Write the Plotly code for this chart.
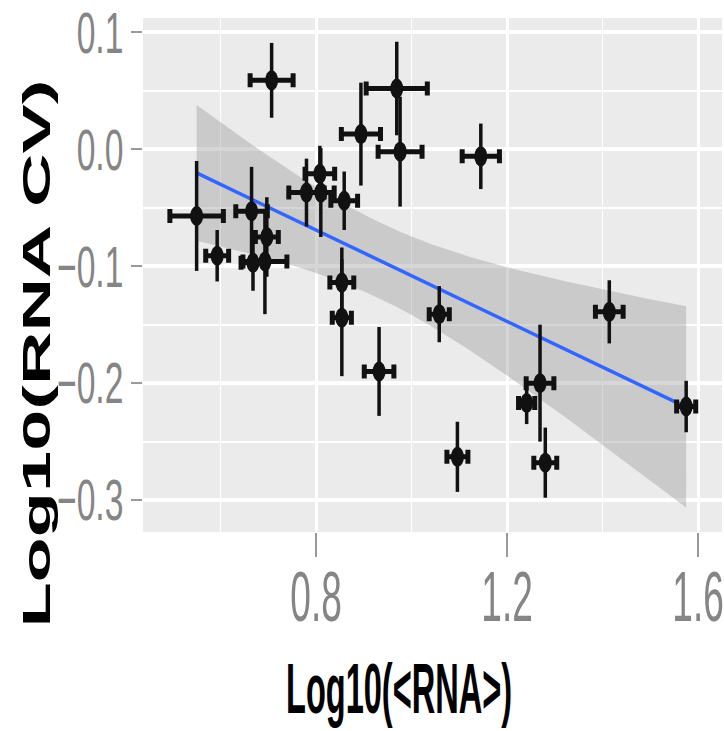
import numpy as np
import plotly.graph_objects as go

# Per-gene summary: mean log10 RNA level vs. log10 coefficient of variation,
# each with its uncertainty (symmetric error half-widths).
log_rna = [0.707, 0.969, 0.976, 0.894, 0.550, 0.593, 0.665, 0.697,
           0.780, 0.808, 0.810, 0.859, 0.668, 0.693, 0.854, 0.854,
           0.932, 1.145, 1.058, 1.414, 1.269, 1.241, 1.096, 1.280, 1.575]
log_cv = [0.059, 0.052, -0.002, 0.013, -0.057, -0.091, -0.053, -0.075,
          -0.037, -0.021, -0.037, -0.044, -0.097, -0.096, -0.114, -0.144,
          -0.190, -0.006, -0.141, -0.139, -0.200, -0.217, -0.263, -0.268, -0.220]
log_rna_err = [0.045, 0.064, 0.046, 0.041, 0.056, 0.024, 0.033, 0.024,
               0.037, 0.031, 0.028, 0.028, 0.025, 0.046, 0.025, 0.020,
               0.031, 0.039, 0.021, 0.029, 0.029, 0.017, 0.022, 0.024, 0.020]
log_cv_err = [0.032, 0.040, 0.047, 0.044, 0.047, 0.022, 0.038, 0.034,
              0.029, 0.024, 0.038, 0.025, 0.024, 0.045, 0.030, 0.050,
              0.038, 0.028, 0.024, 0.027, 0.050, 0.018, 0.030, 0.030, 0.022]

x_ticks = [0.8, 1.2, 1.6]
x_minor = [0.6, 1.0, 1.4]
y_ticks = [-0.3, -0.2, -0.1, 0.0, 0.1]
y_tick_text = ["\u22120.3", "\u22120.2", "\u22120.1", "0.0", "0.1"]
y_minor = [-0.25, -0.15, -0.05, 0.05]

# Ordinary least-squares fit with a 95% confidence band (as geom_smooth(method="lm"))
xs = np.asarray(log_rna)
ys = np.asarray(log_cv)
n = len(xs)
slope, intercept = np.polyfit(xs, ys, 1)
resid = ys - (intercept + slope * xs)
s = np.sqrt(np.sum(resid ** 2) / (n - 2))
x_mean = xs.mean()
sxx = np.sum((xs - x_mean) ** 2)
T_975 = 2.069  # Student t quantile, df = n - 2 = 23
xg = np.linspace(xs.min(), xs.max(), 80)
yg = intercept + slope * xg
half = T_975 * s * np.sqrt(1.0 / n + (xg - x_mean) ** 2 / sxx)

fig = go.Figure()

fig.add_trace(go.Scatter(x=xg, y=yg + half, mode="lines", line=dict(width=0),
                         hoverinfo="skip", showlegend=False))
fig.add_trace(go.Scatter(x=xg, y=yg - half, mode="lines", line=dict(width=0),
                         fill="tonexty", fillcolor="rgba(153,153,153,0.4)",
                         hoverinfo="skip", showlegend=False))
fig.add_trace(go.Scatter(x=xg, y=yg, mode="lines",
                         line=dict(color="#3366FF", width=3.5),
                         hoverinfo="skip", showlegend=False))

fig.add_trace(go.Scatter(
    x=log_rna, y=log_cv, mode="markers",
    marker=dict(color="#111111", size=20, symbol="circle"),
    error_x=dict(type="data", array=log_rna_err, visible=True,
                 color="#111111", thickness=5, width=7),
    error_y=dict(type="data", array=log_cv_err, visible=True,
                 color="#111111", thickness=3.5, width=0),
    showlegend=False,
))

SANS = "Liberation Sans, Arial, Helvetica, sans-serif"

fig.update_layout(
    width=724, height=731,
    margin=dict(l=143, r=2, t=18, b=199, autoexpand=False),
    paper_bgcolor="white",
    plot_bgcolor="#EBEBEB",
    showlegend=False,
    xaxis=dict(
        range=[0.4377, 1.650], automargin=False,
        tickmode="array", tickvals=x_ticks, ticktext=[f"{v:.1f}" for v in x_ticks],
        showgrid=True, gridcolor="white", gridwidth=2.6,
        minor=dict(tickmode="array", tickvals=x_minor, showgrid=True,
                   gridcolor="white", gridwidth=1.4, ticks=""),
        zeroline=False, showline=False,
        ticks="outside", ticklen=24, tickwidth=1.5, tickcolor="#9a9a9a",
        tickfont=dict(family=SANS, size=70, color="#858585"),
        ticklabelstandoff=-20, ticklabeloverflow="allow",
    ),
    yaxis=dict(
        range=[-0.3273, 0.1123], automargin=False,
        tickmode="array", tickvals=y_ticks, ticktext=y_tick_text,
        showgrid=True, gridcolor="white", gridwidth=4,
        minor=dict(tickmode="array", tickvals=y_minor, showgrid=True,
                   gridcolor="white", gridwidth=2, ticks=""),
        zeroline=False, showline=False,
        ticks="outside", ticklen=11, tickwidth=2, tickcolor="#9a9a9a",
        tickfont=dict(family=SANS, size=58, color="#858585"),
        ticklabelstandoff=-4, ticklabeloverflow="allow",
    ),
    annotations=[
        dict(text="<b>Log10(&lt;RNA&gt;)</b>", xref="paper", yref="paper",
             x=0.442, y=-0.3054, xanchor="center", yanchor="middle",
             showarrow=False, name="xtitle",
             font=dict(family=SANS, size=70, color="black")),
        dict(text="<b>Log10(RNA CV)</b>", xref="paper", yref="paper",
             x=-0.184, y=0.348, xanchor="center", yanchor="middle",
             textangle=-90, showarrow=False, name="ytitle",
             font=dict(family=SANS, size=74, color="black")),
    ],
)

# Narrow the lettering and the point glyphs horizontally (condensed look),
# keeping every label anchored where Plotly placed it.
squash_js = """
var gd = document.getElementById('{plot_id}');
function squash(el, sx, where) {
  var r = el.getBoundingClientRect();
  var m = el.parentNode.getScreenCTM();
  var ax = where === 'right' ? r.right : (r.left + r.right) / 2;
  ax = (ax - m.e) / m.a;
  var t = el.getAttribute('transform') || '';
  el.setAttribute('transform',
    'translate(' + ax + ',0) scale(' + sx + ',1) translate(' + (-ax) + ',0) ' + t);
}
gd.querySelectorAll('.xtick text').forEach(function (el) { squash(el, 0.53, 'center'); });
gd.querySelectorAll('.ytick text').forEach(function (el) { squash(el, 0.58, 'right'); });
var ann = gd.querySelectorAll('g.annotation');
if (ann.length > 0) squash(ann[0], 0.465, 'center');
if (ann.length > 1) squash(ann[1], 0.53, 'center');
gd.querySelectorAll('.scatterlayer .points path.point').forEach(function (el) {
  var t = el.getAttribute('transform') || '';
  el.setAttribute('transform', t + ' scale(0.65,1)');
});
"""

fig.write_html("out.html", post_script=squash_js)
